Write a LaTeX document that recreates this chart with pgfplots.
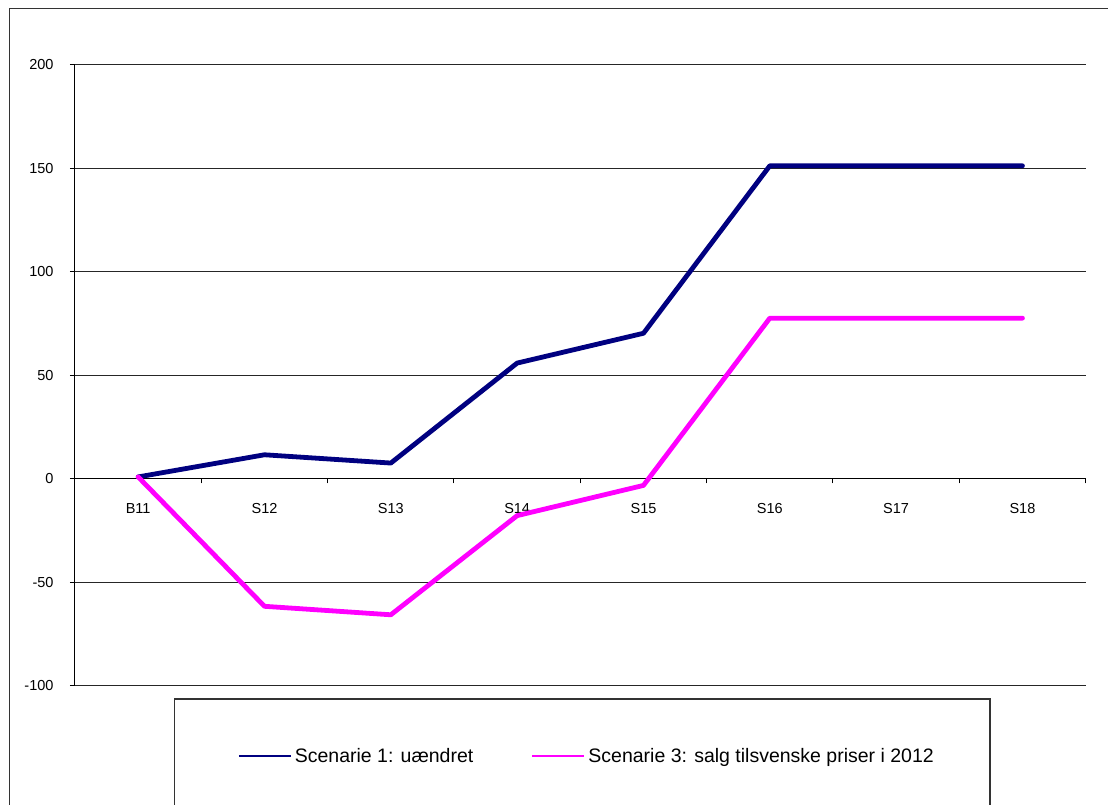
\documentclass[border=0pt]{standalone}
\usepackage{fontspec}
\setmainfont{Liberation Sans}
\usepackage{pgfplots}
\pgfplotsset{compat=1.18}
\definecolor{scnavy}{HTML}{000080}
\definecolor{scmagenta}{HTML}{FF00FF}
\definecolor{frameline}{HTML}{333333}

\begin{document}
\begin{tikzpicture}[x=1pt,y=1pt]
\begin{axis}[
  scale only axis, width=1010.7pt, height=621pt,
  xmin=-0.5, xmax=7.5, ymin=-100, ymax=200,
  axis x line=middle, axis y line=left,
  x axis line style={-, line width=1pt, black},
  y axis line style={-, line width=1pt, black},
  xtick={0,...,7},
  xticklabels={B11,S12,S13,S14,S15,S16,S17,S18},
  major x tick style={draw=none},
  minor xtick={-0.5,0.5,...,7.5},
  minor x tick style={line width=1pt, black, yshift=-2.25pt},
  minor tick length=4.5pt,
  xticklabel style={font=\fontsize{14.5}{16}\selectfont, anchor=north, yshift=-18pt},
  ytick={-100,-50,...,200},
  ytick align=outside, major tick length=5pt,
  major y tick style={line width=1pt, black},
  yticklabel style={font=\fontsize{14.5}{16}\selectfont, anchor=east, xshift=-13pt},
  /pgf/number format/assume math mode=true,
  ymajorgrids,
  major grid style={line width=1pt, black!85},
  clip=false,
  legend columns=2,
  legend style={draw=none, fill=none, at={(axis description cs:0.5064,-0.113)}, anchor=center,
    font=\fontsize{19.5}{22}\selectfont,
    /tikz/every even column/.append style={column sep=56pt}},
  legend image code/.code={
    \draw[#1, line width=2.2pt, line cap=butt] (0pt,0pt) -- (52pt,0pt);
    \path[draw=none] (0pt,0pt) -- (54pt,0pt);},
]
\addplot[scnavy, line width=4.8pt, line join=round, line cap=round] coordinates {
  (0,1) (1,11.7) (2,7.7) (3,56) (4,70.4) (5,151.3) (6,151.3) (7,151.3)};
\addlegendentry{Scenarie 1: uændret}
\addplot[scmagenta, line width=4.8pt, line join=round, line cap=round] coordinates {
  (0,1) (1,-61.5) (2,-65.6) (3,-17.7) (4,-3.1) (5,77.7) (6,77.7) (7,77.7)};
\addlegendentry{Scenarie 3: salg tilsvenske priser i 2012}
\coordinate (plotSW) at (axis cs:-0.5,-100);
\end{axis}
\pgfresetboundingbox
\begin{scope}[shift={(plotSW)}, shift={(-75,-119)}]
  \path[use as bounding box] (0,0) rectangle (1108,805);
  % outer chart frame
  \draw[line width=1.2pt, frameline] (9.5,-20) -- (9.5,796.5) -- (1140,796.5);
  % legend frame
  \draw[line width=1.2pt, frameline] (174.3,-20) -- (174.3,106) -- (990,106) -- (990,-20);
\end{scope}
\end{tikzpicture}
\end{document}
